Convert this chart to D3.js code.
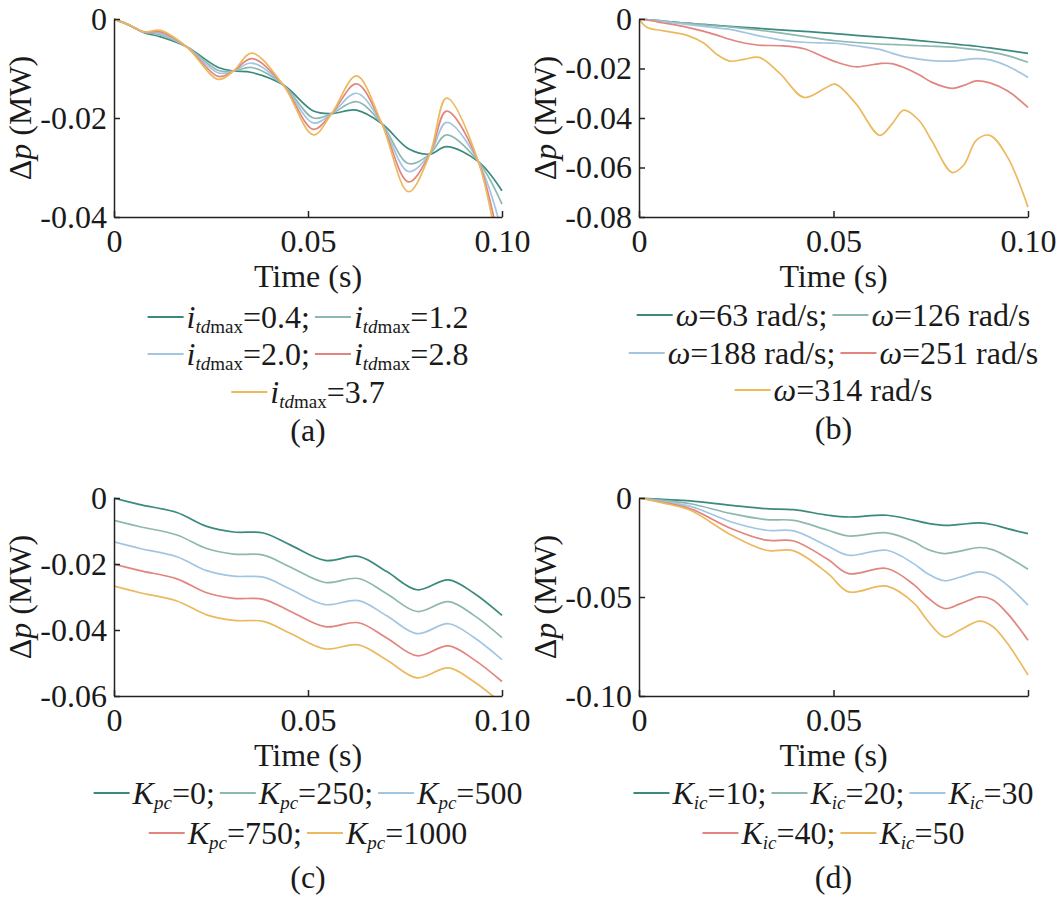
<!DOCTYPE html>
<html lang="en">
<head>
<meta charset="UTF-8">
<title>Δp response</title>
<script src="https://cdn.jsdelivr.net/npm/d3@7"></script>
<style>
  body { margin: 0; background: #fff; }
  svg { display: block; }
  svg text { font-family: "Liberation Serif", "DejaVu Serif", "Times New Roman", serif; fill: #1a1a1a; }
</style>
</head>
<body>
<svg id="chart" width="1059" height="905"></svg>
<script>
// ---- data ----
var colors = ["#3b8a7e", "#8db8b1", "#a2c6e2", "#e1857e", "#ebb95e"];

var xTicks = [0, 0.05, 0.1];
var xTickLabels = ["0", "0.05", "0.10"];
var xTickLabelsD = ["0", "0.05", ""];

// (a) i_tdmax
var timeA = [0, 0.004, 0.0076, 0.012, 0.0187, 0.0269, 0.0308, 0.0355, 0.0436, 0.0514, 0.0561, 0.0625, 0.069, 0.0759, 0.0814, 0.0857, 0.0939, 0.1];
var aItd04 = [0, -0.0013, -0.0027, -0.0036, -0.0056, -0.0098, -0.0105, -0.0108, -0.0133, -0.0186, -0.0191, -0.0184, -0.0211, -0.0262, -0.0273, -0.0258, -0.0288, -0.0347];
var aItd12 = [0, -0.0012, -0.0026, -0.0032, -0.0056, -0.0104, -0.0105, -0.0098, -0.0133, -0.0200, -0.0191, -0.0167, -0.0211, -0.0292, -0.0273, -0.0234, -0.0288, -0.0374];
var aItd20 = [0, -0.0012, -0.0026, -0.0029, -0.0056, -0.0109, -0.0105, -0.0089, -0.0133, -0.0210, -0.0191, -0.0150, -0.0211, -0.0308, -0.0273, -0.0209, -0.0288, -0.0430];
var aItd28 = [0, -0.0012, -0.0026, -0.0026, -0.0056, -0.0116, -0.0105, -0.0080, -0.0133, -0.0223, -0.0191, -0.0131, -0.0211, -0.0329, -0.0273, -0.0186, -0.0288, -0.0483];
var aItd37 = [0, -0.0012, -0.0026, -0.0023, -0.0056, -0.0122, -0.0105, -0.0069, -0.0133, -0.0234, -0.0191, -0.0115, -0.0211, -0.0349, -0.0273, -0.0160, -0.0288, -0.0516];
var yTicksA = [0, -0.02, -0.04];
var yTickLabelsA = ["0", "-0.02", "-0.04"];
var legendA = ["0.4", "1.2", "2.0", "2.8", "3.7"];

// (b) omega
var timeB = [0, 0.002, 0.006, 0.0122, 0.0167, 0.02, 0.0233, 0.027, 0.0309, 0.0362, 0.0424, 0.0477, 0.0504, 0.0557, 0.0619, 0.065, 0.0681, 0.072, 0.0752, 0.0805, 0.0835, 0.0867, 0.0902, 0.0947, 0.1];
var bW63  = [0, -0.0002, -0.0008, -0.0017, -0.0022, -0.0026, -0.0030, -0.0034, -0.0038, -0.0044, -0.0050, -0.0056, -0.0059, -0.0066, -0.0073, -0.0077, -0.0081, -0.0087, -0.0092, -0.0100, -0.0105, -0.0110, -0.0117, -0.0127, -0.0139];
var bW126 = [0, -0.0002, -0.0008, -0.0018, -0.0024, -0.0028, -0.0032, -0.0038, -0.0045, -0.0056, -0.0070, -0.0082, -0.0088, -0.0095, -0.0101, -0.0103, -0.0105, -0.0108, -0.0110, -0.0114, -0.0119, -0.0124, -0.0133, -0.0148, -0.0175];
var bW188 = [0, -0.0003, -0.0010, -0.0022, -0.0030, -0.0036, -0.0042, -0.0054, -0.0068, -0.0084, -0.0094, -0.0097, -0.0098, -0.0108, -0.0123, -0.0138, -0.0152, -0.0162, -0.0168, -0.0170, -0.0165, -0.0160, -0.0165, -0.0190, -0.0236];
var bW251 = [0, -0.0004, -0.0015, -0.0033, -0.0050, -0.0065, -0.0082, -0.0097, -0.0106, -0.0108, -0.0120, -0.0155, -0.0172, -0.0193, -0.0180, -0.0180, -0.0196, -0.0225, -0.0255, -0.0280, -0.0268, -0.0250, -0.0258, -0.0290, -0.0357];
var bW314 = [0, -0.0033, -0.0047, -0.0065, -0.0098, -0.0143, -0.0170, -0.0163, -0.0155, -0.0220, -0.0317, -0.0281, -0.0263, -0.0341, -0.0470, -0.0425, -0.0368, -0.0410, -0.0490, -0.0620, -0.0590, -0.0490, -0.0470, -0.0557, -0.0760];
var yTicksB = [0, -0.02, -0.04, -0.06, -0.08];
var yTickLabelsB = ["0", "-0.02", "-0.04", "-0.06", "-0.08"];
var legendB = ["63", "126", "188", "251", "314"];

// (c) K_pc
var timeC = [0, 0.0067, 0.0162, 0.0239, 0.0308, 0.0385, 0.0454, 0.0544, 0.063, 0.0703, 0.0781, 0.0862, 0.0927, 0.1];
var cKpc0    = [0, -0.0020, -0.0044, -0.0086, -0.0103, -0.0106, -0.0142, -0.0189, -0.0177, -0.0223, -0.0278, -0.0248, -0.0288, -0.0356];
var cKpc250  = [-0.0068, -0.0087, -0.0112, -0.0153, -0.0170, -0.0173, -0.0209, -0.0256, -0.0244, -0.0290, -0.0344, -0.0314, -0.0355, -0.0423];
var cKpc500  = [-0.0133, -0.0153, -0.0178, -0.0220, -0.0237, -0.0240, -0.0276, -0.0323, -0.0311, -0.0357, -0.0411, -0.0381, -0.0422, -0.0490];
var cKpc750  = [-0.0200, -0.0220, -0.0245, -0.0287, -0.0304, -0.0307, -0.0343, -0.0390, -0.0378, -0.0424, -0.0478, -0.0448, -0.0489, -0.0556];
var cKpc1000 = [-0.0267, -0.0287, -0.0312, -0.0354, -0.0371, -0.0374, -0.0410, -0.0457, -0.0445, -0.0491, -0.0545, -0.0515, -0.0556, -0.0623];
var yTicksC = [0, -0.02, -0.04, -0.06];
var yTickLabelsC = ["0", "-0.02", "-0.04", "-0.06"];
var legendC = ["0", "250", "500", "750", "1000"];

// (d) K_ic
var timeD = [0, 0.0061, 0.0132, 0.0238, 0.0327, 0.0398, 0.0486, 0.0539, 0.0637, 0.0708, 0.074, 0.0785, 0.0825, 0.0876, 0.091, 0.0947, 0.1];
var dKic10 = [0, -0.0007, -0.0015, -0.0037, -0.0054, -0.0059, -0.0087, -0.0096, -0.0087, -0.0113, -0.0127, -0.0138, -0.0133, -0.0126, -0.0135, -0.0155, -0.0180];
var dKic20 = [0, -0.0012, -0.0029, -0.0079, -0.0109, -0.0113, -0.0163, -0.0192, -0.0176, -0.0222, -0.0258, -0.0281, -0.0268, -0.0250, -0.0262, -0.0297, -0.0360];
var dKic30 = [0, -0.0017, -0.0042, -0.0121, -0.0163, -0.0166, -0.0244, -0.0289, -0.0264, -0.0334, -0.0380, -0.0418, -0.0400, -0.0373, -0.0390, -0.0440, -0.0541];
var dKic40 = [0, -0.0022, -0.0054, -0.0155, -0.0213, -0.0217, -0.0311, -0.0382, -0.0356, -0.0440, -0.0500, -0.0558, -0.0535, -0.0499, -0.0515, -0.0583, -0.0718];
var dKic50 = [0, -0.0025, -0.0062, -0.0188, -0.0264, -0.0267, -0.0382, -0.0474, -0.0445, -0.0533, -0.0615, -0.0701, -0.0667, -0.0622, -0.0650, -0.0734, -0.0894];
var yTicksD = [0, -0.05, -0.1];
var yTickLabelsD = ["0", "-0.05", "-0.10"];
var legendD = ["10", "20", "30", "40", "50"];

// ---- layout ----
var FONT = 32, SUB = 19, SUBDY = 5;
var SERIF = "'Liberation Serif', 'DejaVu Serif', 'Times New Roman', serif";

var panels = [
  { id: "a", l: 114, r: 502, t: 19, b: 217, time: timeA,
    series: [aItd04, aItd12, aItd20, aItd28, aItd37],
    yDom: [-0.04, 0], yTicks: yTicksA, yLabels: yTickLabelsA, xLabels: xTickLabels,
    legend: legendA, kind: "itd", rows: [[0, 1], [2, 3], [4]], rowY: [328, 365, 403], tagY: 441, ylab: 31 },
  { id: "b", l: 639, r: 1028, t: 19, b: 217, time: timeB,
    series: [bW63, bW126, bW188, bW251, bW314],
    yDom: [-0.08, 0], yTicks: yTicksB, yLabels: yTickLabelsB, xLabels: xTickLabels,
    legend: legendB, kind: "w", rows: [[0, 1], [2, 3], [4]], rowY: [326, 364, 401], tagY: 439, ylab: 556 },
  { id: "c", l: 114, r: 502, t: 498, b: 696, time: timeC,
    series: [cKpc0, cKpc250, cKpc500, cKpc750, cKpc1000],
    yDom: [-0.06, 0], yTicks: yTicksC, yLabels: yTickLabelsC, xLabels: xTickLabels,
    legend: legendC, kind: "kpc", rows: [[0, 1, 2], [3, 4]], rowY: [804, 844], tagY: 888, ylab: 31 },
  { id: "d", l: 639, r: 1028, t: 498, b: 696, time: timeD,
    series: [dKic10, dKic20, dKic30, dKic40, dKic50],
    yDom: [-0.1, 0], yTicks: yTicksD, yLabels: yTickLabelsD, xLabels: xTickLabelsD,
    legend: legendD, kind: "kic", rows: [[0, 1, 2], [3, 4]], rowY: [804, 844], tagY: 888, ylab: 556 }
];

var svg = d3.select("#chart");
var defs = svg.append("defs");

function entryParts(kind, v) {
  if (kind === "itd") return [{ s: "i", it: 1 }, { s: "td", it: 1, sub: 1 }, { s: "max", sub: 1 }, { s: "=" + v }];
  if (kind === "w") return [{ s: "ω", it: 1 }, { s: "=" + v + " rad/s" }];
  if (kind === "kpc") return [{ s: "K", it: 1 }, { s: "pc", it: 1, sub: 1 }, { s: "=" + v }];
  return [{ s: "K", it: 1 }, { s: "ic", it: 1, sub: 1 }, { s: "=" + v }];
}

function label(sel) {
  return sel.style("font-family", SERIF).attr("font-size", FONT);
}

function drawEntry(g, x, y, color, parts) {
  g.append("line")
      .attr("x1", x).attr("x2", x + 36)
      .attr("y1", y - 11).attr("y2", y - 11)
      .attr("stroke", color).attr("stroke-width", 2);
  var txt = label(g.append("text").attr("x", x + 39).attr("y", y));
  var inSub = false;
  parts.forEach(function (p) {
    var ts = txt.append("tspan").text(p.s);
    if (p.it) ts.attr("font-style", "italic");
    if (p.sub) ts.attr("font-size", SUB);
    if (p.sub && !inSub) { ts.attr("dy", SUBDY); inSub = true; }
    else if (!p.sub && inSub) { ts.attr("dy", -SUBDY); inSub = false; }
  });
  return x + 39 + txt.node().getComputedTextLength();
}

panels.forEach(function (p) {
  var x = d3.scaleLinear().domain([0, 0.1]).range([p.l, p.r]);
  var y = d3.scaleLinear().domain(p.yDom).range([p.b, p.t]);

  defs.append("clipPath").attr("id", "clip-" + p.id)
    .append("rect")
      .attr("x", p.l).attr("y", p.t - 3)
      .attr("width", p.r - p.l + 2).attr("height", p.b - p.t + 3);

  var line = d3.line()
      .x(function (d) { return x(d[0]); })
      .y(function (d) { return y(d[1]); })
      .curve(d3.curveCatmullRom.alpha(0.5));

  svg.append("g").attr("clip-path", "url(#clip-" + p.id + ")")
    .selectAll("path")
    .data(p.series)
    .enter().append("path")
      .attr("fill", "none")
      .attr("stroke", function (d, i) { return colors[i]; })
      .attr("stroke-width", 1.7)
      .attr("d", function (d) {
        return line(d.map(function (v, i) { return [p.time[i], v]; }));
      });

  // axes, ticks pointing inward
  var gx = svg.append("g")
      .attr("transform", "translate(0," + p.b + ")")
      .call(d3.axisBottom(x).tickValues(xTicks)
        .tickSizeInner(-6).tickSizeOuter(0).tickPadding(12)
        .tickFormat(function (d, i) { return p.xLabels[i]; }));
  var gy = svg.append("g")
      .attr("transform", "translate(" + p.l + ",0)")
      .call(d3.axisLeft(y).tickValues(p.yTicks)
        .tickSizeInner(-6).tickSizeOuter(0).tickPadding(7)
        .tickFormat(function (d, i) { return p.yLabels[i]; }));
  [gx, gy].forEach(function (g) {
    g.attr("font-family", null).attr("font-size", null);
    g.selectAll("path, line").attr("stroke", "#222").attr("stroke-width", 1.5);
    label(g.selectAll("text")).attr("fill", "#1a1a1a");
  });

  // axis titles
  label(svg.append("text"))
      .attr("x", (p.l + p.r) / 2).attr("y", p.b + 70)
      .attr("text-anchor", "middle")
      .text("Time (s)");

  var yl = label(svg.append("text"))
      .attr("transform", "translate(" + p.ylab + "," + ((p.t + p.b) / 2) + ") rotate(-90)")
      .attr("text-anchor", "middle");
  yl.append("tspan").text("Δ");
  yl.append("tspan").attr("font-style", "italic").text("p");
  yl.append("tspan").text(" (MW)");

  // legend rows, centred under the plot
  p.rows.forEach(function (row, ri) {
    var g = svg.append("g");
    var cx = 0;
    row.forEach(function (k, j) {
      var parts = entryParts(p.kind, p.legend[k]);
      if (j < row.length - 1) parts[parts.length - 1].s += ";";
      cx = drawEntry(g, cx, p.rowY[ri], colors[k], parts);
      if (j < row.length - 1) cx += 5;
    });
    g.attr("transform", "translate(" + ((p.l + p.r) / 2 - cx / 2) + ",0)");
  });

  label(svg.append("text"))
      .attr("x", (p.l + p.r) / 2).attr("y", p.tagY)
      .attr("text-anchor", "middle")
      .text("(" + p.id + ")");
});
</script>
</body>
</html>
